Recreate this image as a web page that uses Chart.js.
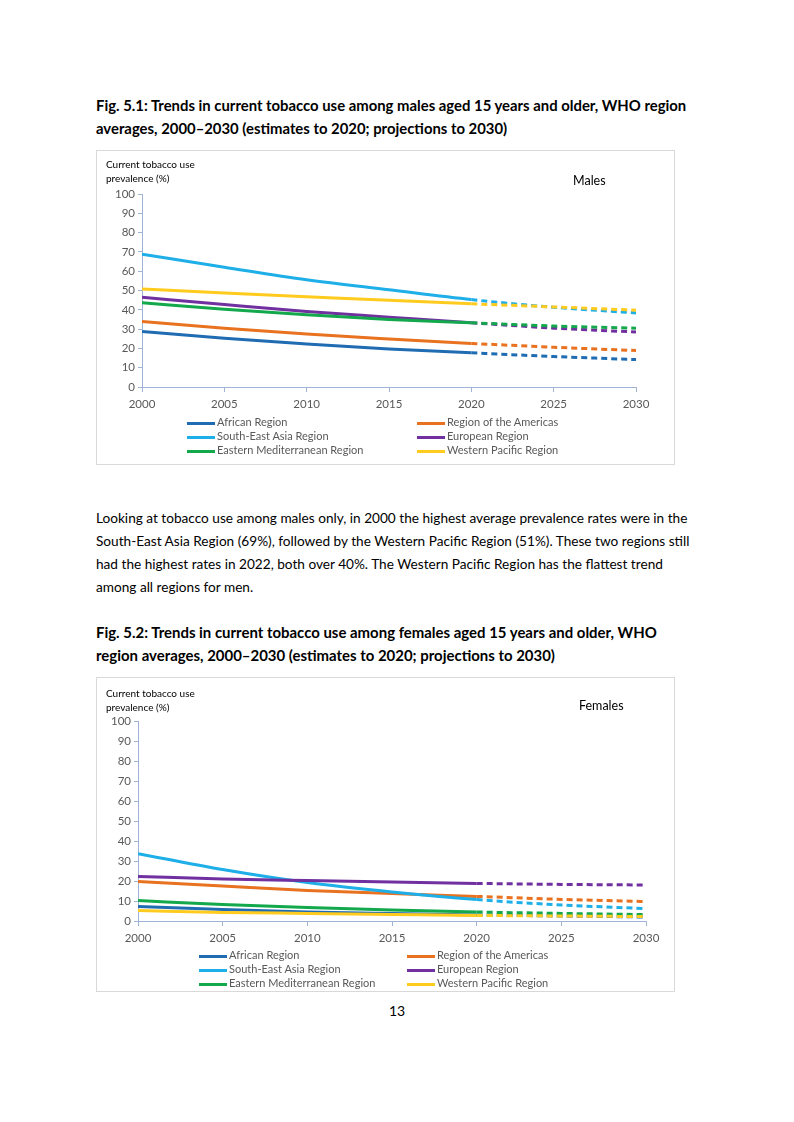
<!DOCTYPE html>
<html>
<head>
<meta charset="utf-8">
<title>Tobacco use trends</title>
<script src="https://cdn.jsdelivr.net/npm/chart.js@4"></script>
<style>
  html, body { margin: 0; padding: 0; background: #fff; }
  body { width: 794px; height: 1122px; position: relative; font-family: Lato, "Open Sans", sans-serif; color: #000; }
  .blk { position: absolute; left: 96px; line-height: 23px; white-space: nowrap; font-size: 14px; }
  .bold { font-weight: bold; }
  .box { position: absolute; left: 96px; width: 579px; height: 315px; border: 1px solid #d9d9d9; box-sizing: border-box; }
  .box canvas { position: absolute; left: -1px; top: -1px; }
  .ytitle { position: absolute; left: 9px; font-size: 10px; line-height: 14px; }
  .sex { position: absolute; font-size: 12.5px; }
  .leg { position: absolute; font-size: 11px; color: #595959; white-space: nowrap; }
  .leg i { display: inline-block; width: 28px; height: 3px; vertical-align: middle; margin-right: 2px; }
  .pg { position: absolute; left: 0; width: 794px; top: 1002px; text-align: center; font-size: 14px; }
</style>
</head>
<body>

<div class="blk bold" id="t1" style="top:94px" data-fit="591"><span>Fig. 5.1: Trends in current tobacco use among males aged 15 years and older, WHO region</span><br><span>averages, 2000–2030 (estimates to 2020; projections to 2030)</span></div>

<div class="box" id="box1" style="top:150px">
  <canvas id="males" width="579" height="315"></canvas>
  <div class="ytitle" style="top:6px">Current tobacco use<br>prevalence (%)</div>
  <div class="sex" style="left:476px;top:22px">Males</div>
</div>

<div class="blk" id="p1" style="top:507px" data-fit="592"><span>Looking at tobacco use among males only, in 2000 the highest average prevalence rates were in the</span><br>South-East Asia Region (69%), followed by the Western Pacific Region (51%). These two regions still<br>had the highest rates in 2022, both over 40%. The Western Pacific Region has the flattest trend<br>among all regions for men.</div>

<div class="blk bold" id="t2" style="top:621px" data-fit="561"><span>Fig. 5.2: Trends in current tobacco use among females aged 15 years and older, WHO</span><br><span>region averages, 2000–2030 (estimates to 2020; projections to 2030)</span></div>

<div class="box" id="box2" style="top:677px">
  <canvas id="females" width="579" height="315"></canvas>
  <div class="ytitle" style="top:8px">Current tobacco use<br>prevalence (%)</div>
  <div class="sex" style="left:482px;top:20px">Females</div>
</div>

<div class="pg">13</div>

<script>
const years = [2000, 2005, 2010, 2015, 2020, 2025, 2030];
const regions = ['African Region', 'Region of the Americas', 'South-East Asia Region',
                 'European Region', 'Eastern Mediterranean Region', 'Western Pacific Region'];
const regionColors = ['#1f6cb3', '#e8721f', '#1eaee8', '#7030a0', '#12a84b', '#ffcb1f'];

// males, % (estimates to 2020, projections after)
const maleAfr  = [28.8, 25.2, 22.3, 19.7, 17.7, 15.8, 14.2];
const maleAmr  = [34.0, 30.4, 27.4, 24.9, 22.6, 20.6, 18.9];
const maleSear = [68.8, 62.1, 55.6, 50.4, 45.3, 41.3, 38.4];
const maleEur  = [46.5, 42.7, 39.1, 36.2, 33.3, 30.5, 28.5];
const maleEmr  = [43.7, 40.3, 37.4, 35.0, 33.3, 31.6, 30.5];
const maleWpr  = [50.8, 48.7, 46.8, 44.9, 43.1, 41.5, 39.8];

// females, %
const femAfr  = [7.2, 5.7, 4.5, 3.7, 3.0, 2.5, 2.0];
const femAmr  = [19.8, 17.5, 15.3, 13.7, 12.3, 10.8, 9.7];
const femSear = [33.7, 25.7, 19.2, 14.5, 10.7, 8.0, 6.2];
const femEur  = [22.3, 21.0, 20.2, 19.5, 18.8, 18.3, 18.0];
const femEmr  = [10.2, 8.2, 6.7, 5.5, 4.5, 3.8, 3.2];
const femWpr  = [5.2, 4.3, 3.8, 3.3, 2.8, 2.5, 2.2];

const lastEstimate = 2020;
const axisColor = '#9fb3d6';
const tickFont = { family: 'Lato, "Open Sans", sans-serif', size: 11.5 };

// scale text blocks so the first line has the reference width
document.querySelectorAll('[data-fit]').forEach(el => {
  const first = el.querySelector('span');
  const w = first.getBoundingClientRect().width;
  const fs = parseFloat(getComputedStyle(el).fontSize);
  el.style.fontSize = (fs * parseFloat(el.dataset.fit) / w) + 'px';
});

function makeChart(id, series, pad, yWidth) {
  const datasets = regions.map((name, i) => ({
    label: name,
    data: years.map((yr, j) => ({ x: yr, y: series[i][j] })),
    borderColor: regionColors[i],
    backgroundColor: regionColors[i],
    borderWidth: 3,
    pointRadius: 0,
    fill: false,
    cubicInterpolationMode: 'monotone',
    order: regions.length - i,
    segment: {
      borderDash: c => c.p0.parsed.x >= lastEstimate ? [6, 4] : undefined
    }
  }));
  return new Chart(document.getElementById(id), {
    type: 'line',
    data: { datasets },
    options: {
      responsive: false,
      animation: false,
      layout: { padding: pad },
      plugins: { legend: { display: false }, tooltip: { enabled: false } },
      scales: {
        x: {
          type: 'linear', min: 2000, max: 2030,
          ticks: { stepSize: 5, color: '#595959', font: tickFont, padding: 5, callback: v => String(v) },
          grid: { drawOnChartArea: false, color: axisColor, tickLength: 5 },
          border: { color: axisColor },
          afterFit: s => { s.height = 22; }
        },
        y: {
          min: 0, max: 100,
          ticks: { stepSize: 10, color: '#595959', font: tickFont, padding: 3 },
          grid: { drawOnChartArea: false, color: axisColor, tickLength: 4 },
          border: { color: axisColor },
          afterFit: s => { s.width = yWidth; }
        }
      }
    }
  });
}

function makeLegend(boxId, colLeft, rowTop) {
  const box = document.getElementById(boxId);
  regions.forEach((name, i) => {
    const d = document.createElement('div');
    d.className = 'leg';
    d.style.left = colLeft[i % 2] + 'px';
    d.style.top = (rowTop + Math.floor(i / 2) * 14) + 'px';
    d.innerHTML = '<i style="background:' + regionColors[i] + '"></i>' + name;
    box.appendChild(d);
  });
}

makeChart('males', [maleAfr, maleAmr, maleSear, maleEur, maleEmr, maleWpr],
          { left: 0, right: 39, top: 44, bottom: 56 }, 46);
makeChart('females', [femAfr, femAmr, femSear, femEur, femEmr, femWpr],
          { left: 0, right: 29, top: 44, bottom: 49 }, 42);

makeLegend('box1', [90, 320], 264);
makeLegend('box2', [102, 310], 270);
</script>
</body>
</html>
